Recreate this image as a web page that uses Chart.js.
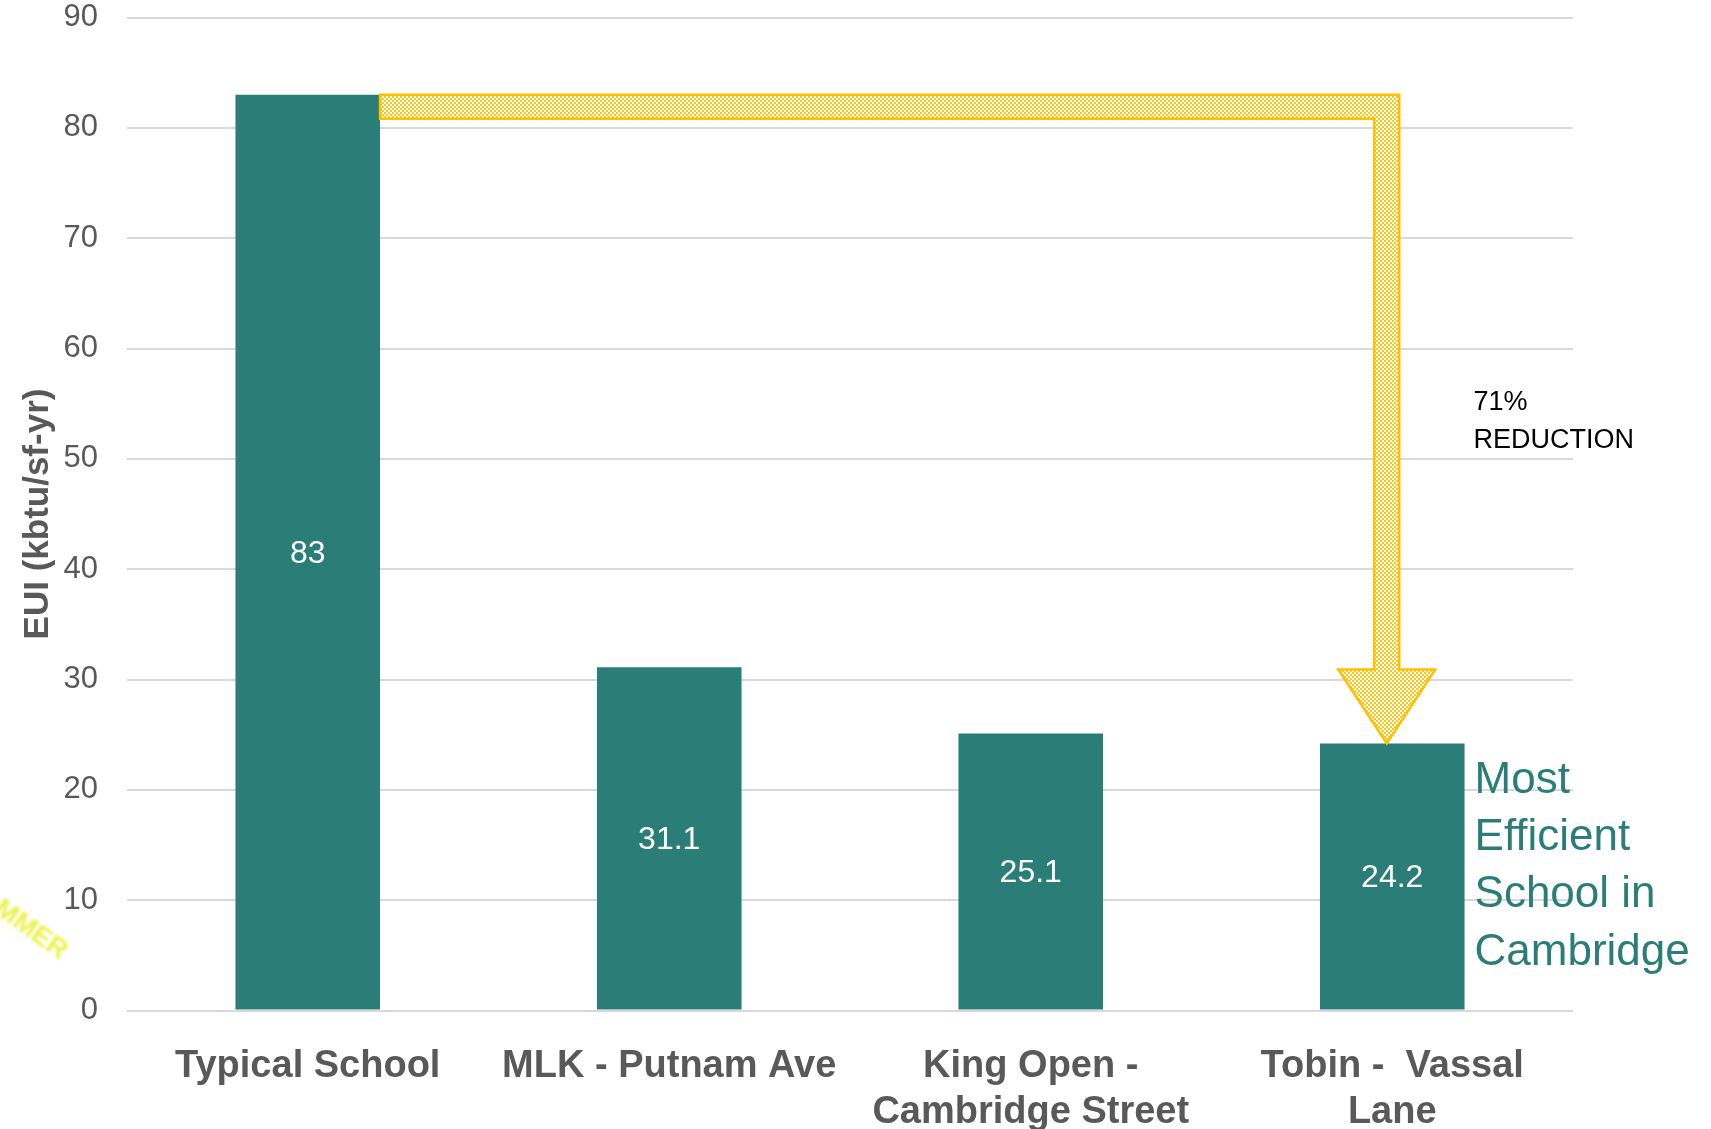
<!DOCTYPE html>
<html>
<head>
<meta charset="utf-8">
<script src="https://cdn.jsdelivr.net/npm/chart.js@4/dist/chart.umd.min.js"></script>
<style>
  html, body { margin: 0; padding: 0; background: #fff; }
  #chart_elem { display: block; }
</style>
</head>
<body>
<canvas id="chart_elem" width="1711" height="1129"></canvas>
<script>
// data
const schools = [
  ['Typical School'],
  ['MLK - Putnam Ave'],
  ['King Open -', 'Cambridge Street'],
  ['Tobin -  Vassal', 'Lane']
];
const eui = [83, 31.1, 25.1, 24.2];
const yTicks = [0, 10, 20, 30, 40, 50, 60, 70, 80, 90];
const axisTitle = 'EUI (kbtu/sf-yr)';
const reductionText = ['71%', 'REDUCTION'];
const noteText = ['Most', 'Efficient', 'School in', 'Cambridge'];

const teal = '#2b7d78';
const grey = '#595959';
const gold = '#ffc000';

// checkered fill for the arrow (2px squares)
const makePattern = (ctx) => {
  const pc = document.createElement('canvas');
  pc.width = 4; pc.height = 4;
  const p = pc.getContext('2d');
  p.fillStyle = '#ffffff';
  p.fillRect(0, 0, 4, 4);
  p.fillStyle = '#ffc61a';
  p.fillRect(0, 0, 2, 2);
  p.fillRect(2, 2, 2, 2);
  return ctx.createPattern(pc, 'repeat');
};

const extras = {
  id: 'extras',
  afterDatasetsDraw(chart) {
    const ctx = chart.ctx;
    const bars = chart.getDatasetMeta(0).data;
    const y = chart.scales.y;

    // values inside the bars
    ctx.save();
    ctx.fillStyle = '#fff';
    ctx.font = '32px "Liberation Sans", Arial, sans-serif';
    ctx.textAlign = 'center';
    ctx.textBaseline = 'middle';
    bars.forEach((b, i) => {
      ctx.fillText(String(eui[i]), b.x, (b.y + b.base) / 2 + 2);
    });
    ctx.restore();

    // reduction arrow from first bar to last bar
    const first = bars[0], last = bars[bars.length - 1];
    const x0 = first.x + first.width / 2;
    const yTop = y.getPixelForValue(eui[0]);
    const yTip = y.getPixelForValue(eui[eui.length - 1]);
    const band = 24;
    const cx = last.x - 5.5;
    const half = 12.5;
    const headHalf = 48.5;
    const headH = 74;
    const headY = yTip - headH;

    ctx.save();
    ctx.beginPath();
    ctx.moveTo(x0, yTop);
    ctx.lineTo(cx + half, yTop);
    ctx.lineTo(cx + half, headY);
    ctx.lineTo(cx + headHalf, headY);
    ctx.lineTo(cx, yTip);
    ctx.lineTo(cx - headHalf, headY);
    ctx.lineTo(cx - half, headY);
    ctx.lineTo(cx - half, yTop + band);
    ctx.lineTo(x0, yTop + band);
    ctx.closePath();
    ctx.fillStyle = makePattern(ctx);
    ctx.fill();
    ctx.strokeStyle = gold;
    ctx.lineWidth = 2.5;
    ctx.lineJoin = 'miter';
    ctx.stroke();
    ctx.restore();

    // side notes
    const tx = last.x + last.width / 2 + 9;
    ctx.save();
    ctx.textAlign = 'left';
    ctx.textBaseline = 'alphabetic';
    ctx.fillStyle = '#000';
    ctx.font = '27px "Liberation Sans", Arial, sans-serif';
    ctx.fillText(reductionText[0], tx, 410);
    ctx.fillText(reductionText[1], tx, 448);

    ctx.fillStyle = teal;
    ctx.font = '44px "Liberation Sans", Arial, sans-serif';
    noteText.forEach((t, i) => {
      ctx.fillText(t, tx + 1, 793 + i * 57.2);
    });
    ctx.restore();

    // faint leftover of a logo at the left edge
    ctx.save();
    ctx.translate(60, 960);
    ctx.rotate(0.62);
    ctx.filter = 'blur(1.5px)';
    ctx.fillStyle = 'rgba(232, 240, 40, 0.85)';
    ctx.font = 'bold 27px "Liberation Sans", Arial, sans-serif';
    ctx.textAlign = 'right';
    ctx.fillText('MMER', 0, 0);
    ctx.restore();
  }
};

const canvas = document.getElementById('chart_elem');
const ctx = canvas.getContext('2d');

const data = {
  labels: schools,
  datasets: [{
    label: 'EUI',
    data: eui,
    backgroundColor: teal,
    borderWidth: 0,
    barPercentage: 0.4,
    categoryPercentage: 1
  }]
};

const config = {
  type: 'bar',
  data,
  options: {
    responsive: false,
    animation: false,
    devicePixelRatio: 1,
    layout: { padding: { top: 17.5, right: 138, left: 0, bottom: 0 } },
    plugins: {
      legend: { display: false },
      tooltip: { enabled: false }
    },
    scales: {
      x: {
        grid: { display: false },
        border: { display: false },
        ticks: {
          color: grey,
          padding: 25.5,
          maxRotation: 0,
          autoSkip: false,
          font: { family: '"Liberation Sans", Arial, sans-serif', size: 38, weight: 'bold', lineHeight: 1.2 }
        },
        afterFit: (scale) => { scale.height = 118.5; }
      },
      y: {
        min: 0,
        max: 90,
        afterBuildTicks: (scale) => { scale.ticks = yTicks.map(v => ({ value: v })); },
        grid: { color: '#d9d9d9', lineWidth: 2, drawTicks: false },
        border: { display: false },
        ticks: {
          color: grey,
          padding: 29,
          font: { family: '"Liberation Sans", Arial, sans-serif', size: 31, lineHeight: 1.1 }
        },
        title: {
          display: true,
          text: axisTitle,
          color: grey,
          padding: { top: 17, bottom: 0 },
          font: { family: '"Liberation Sans", Arial, sans-serif', size: 35, weight: 'bold', lineHeight: 1.2 }
        },
        afterFit: (scale) => {
          scale.width = 127;
          // tick padding would otherwise push the plot down
          scale.paddingTop = 0;
          scale.paddingBottom = 0;
        }
      }
    }
  },
  plugins: [extras]
};

const chart = new Chart(ctx, config);
</script>
</body>
</html>
